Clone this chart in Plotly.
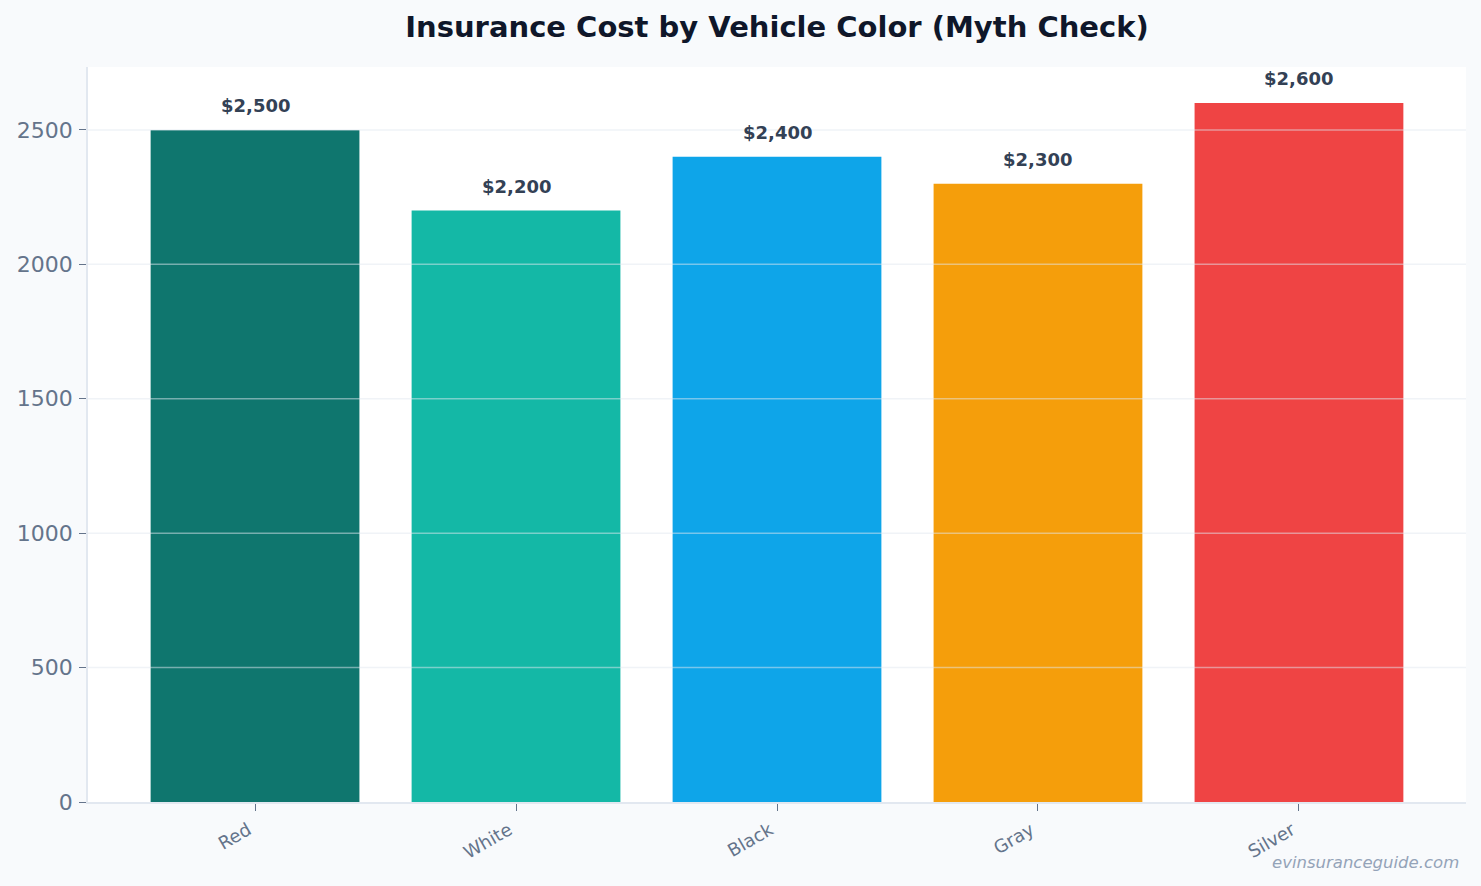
import plotly.graph_objects as go

categories = ["Red", "White", "Black", "Gray", "Silver"]
costs = [2500, 2200, 2400, 2300, 2600]
bar_colors = ["#0f766e", "#14b8a6", "#0ea5e9", "#f59e0b", "#ef4444"]
y_ticks = [0, 500, 1000, 1500, 2000, 2500]

fig = go.Figure()
fig.add_trace(go.Bar(
    x=categories, y=costs, marker_color=bar_colors, marker_line_width=0,
    width=0.8, hoverinfo="x+y",
))

for c, v in zip(categories, costs):
    fig.add_annotation(x=c, y=v, text=f"<b>${v:,}</b>", showarrow=False,
                       yanchor="bottom", yshift=12,
                       font=dict(family="DejaVu Sans", size=18, color="#334155"))

for t in y_ticks[1:]:
    fig.add_shape(type="line", xref="paper", x0=0, x1=1, yref="y", y0=t, y1=t,
                  layer="above", line=dict(color="rgba(226,232,240,0.5)", width=1.5))

fig.add_annotation(text="<i>evinsuranceguide.com</i>", xref="paper", yref="paper",
                   x=1, xshift=-5, y=-0.082, xanchor="right", yanchor="middle", showarrow=False,
                   font=dict(family="DejaVu Sans", size=16.5, color="#94a3b8"))

fig.update_layout(
    width=1481, height=886,
    paper_bgcolor="#f8fafc", plot_bgcolor="#ffffff",
    margin=dict(l=88, r=15, t=67, b=84),
    title=dict(text="<b>Insurance Cost by Vehicle Color (Myth Check)</b>",
               x=0.5, xref="paper", y=1 - 27 / 886, yanchor="middle",
               font=dict(family="DejaVu Sans", size=29, color="#0f172a")),
    font=dict(family="DejaVu Sans"),
    showlegend=False,
    bargap=0.2,
)
fig.update_xaxes(range=[-0.64, 4.64], tickangle=-30, ticks="outside", ticklen=7,
                 tickcolor="#64748b", showline=True, linecolor="#e2e8f0", linewidth=1.5,
                 showgrid=False, ticklabelshift=-7, ticklabelstandoff=2,
                 tickfont=dict(size=18, color="#64748b"))
fig.update_yaxes(range=[0, 2734], tickvals=y_ticks, ticks="outside", ticklen=7,
                 tickcolor="#64748b", showline=True, linecolor="#e2e8f0", linewidth=1.5,
                 showgrid=False, zeroline=False, ticklabelstandoff=2,
                 tickfont=dict(size=22, color="#64748b"))

fig.write_html("out.html")
